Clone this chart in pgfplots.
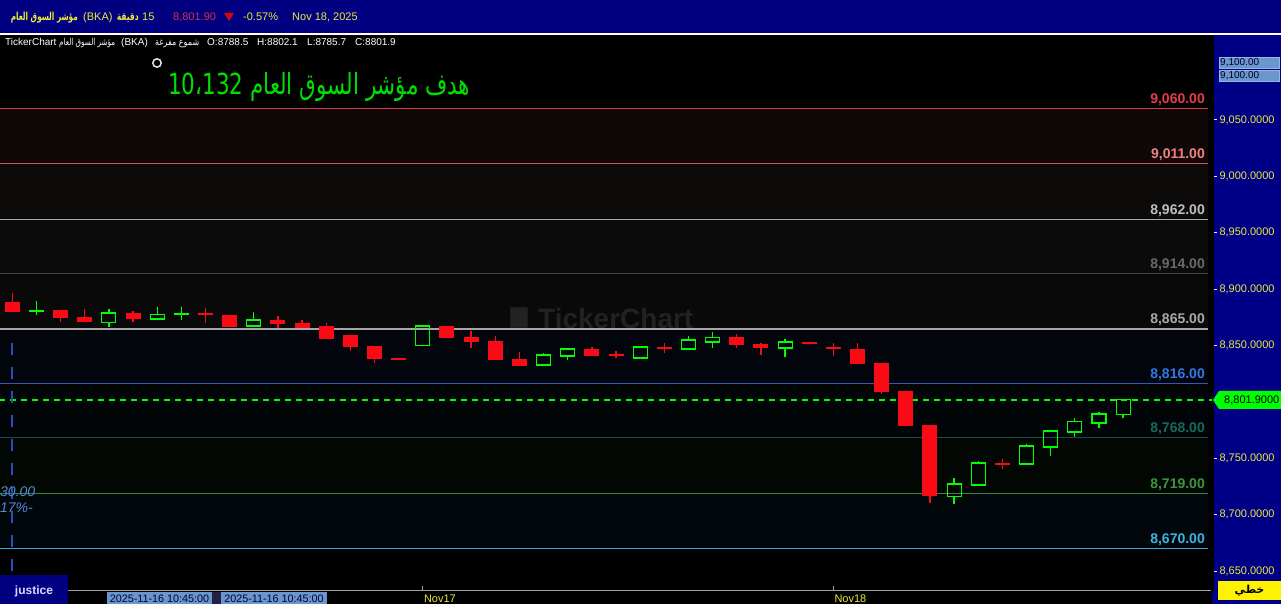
\documentclass[border=0pt]{standalone}
\usepackage{graphicx}
\usepackage{pgfplots}
\pgfplotsset{compat=1.18}
\usepackage{pgfplotstable}
\usepackage{fontspec}
\setmainfont{Liberation Sans}
\newfontfamily\arabicfont[Script=Arabic]{DejaVu Sans}
\TeXXeTstate=1

\definecolor{navyhead}{RGB}{0,0,128}
\definecolor{navypanel}{RGB}{0,0,135}
\definecolor{tyellow}{RGB}{235,235,60}
\definecolor{cred}{RGB}{250,10,20}
\definecolor{cgreen}{RGB}{0,255,0}
\definecolor{pricered}{RGB}{210,50,80}
\definecolor{band1}{RGB}{16,8,8}
\definecolor{band2}{RGB}{13,10,10}
\definecolor{band3}{RGB}{11,11,11}
\definecolor{band4}{RGB}{9,9,9}
\definecolor{band5}{RGB}{3,5,12}
\definecolor{band6}{RGB}{2,5,8}
\definecolor{band7}{RGB}{3,7,4}
\definecolor{band8}{RGB}{1,7,11}
\definecolor{l9060}{RGB}{215,60,70}
\definecolor{l9011}{RGB}{200,90,90}
\definecolor{l8962}{RGB}{170,170,170}
\definecolor{l8914}{RGB}{70,70,70}
\definecolor{l8865}{RGB}{165,165,170}
\definecolor{l8816}{RGB}{50,90,180}
\definecolor{l8768}{RGB}{20,80,75}
\definecolor{l8719}{RGB}{55,135,55}
\definecolor{l8670}{RGB}{45,175,210}
\definecolor{t9060}{RGB}{230,60,75}
\definecolor{t9011}{RGB}{240,130,130}
\definecolor{t8962}{RGB}{190,190,190}
\definecolor{t8914}{RGB}{105,105,105}
\definecolor{t8865}{RGB}{170,170,170}
\definecolor{t8816}{RGB}{50,120,230}
\definecolor{t8768}{RGB}{25,105,90}
\definecolor{t8719}{RGB}{60,150,60}
\definecolor{t8670}{RGB}{60,180,225}
\definecolor{vblue}{RGB}{35,80,190}
\definecolor{itblue}{RGB}{85,135,215}
\definecolor{datebox}{RGB}{105,150,205}
\definecolor{wmark}{RGB}{34,34,34}

% candles: index, open, high, low, close, green(1)/red(0)
\pgfplotstableread{
i o h l c g
1 8888.6 8896.6 8879.7 8879.7 0
2 8880.6 8889.5 8877.1 8880.6 1
3 8881.5 8881.5 8870.8 8874.4 0
4 8875.3 8882.4 8870.8 8870.8 0
5 8870.8 8882.4 8866.4 8878.8 1
6 8878.8 8880.6 8870.8 8873.5 0
7 8873.5 8884.2 8872.6 8877.9 1
8 8877.9 8884.2 8872.6 8877.9 1
9 8877.9 8883.3 8870.0 8877.9 0
10 8877.1 8877.1 8866.4 8866.4 0
11 8867.3 8879.7 8867.3 8872.6 1
12 8872.6 8876.2 8865.5 8869.1 0
13 8870.0 8872.6 8865.5 8865.5 0
14 8867.3 8870.0 8855.8 8855.8 0
15 8859.3 8859.3 8845.1 8848.7 0
16 8849.6 8849.6 8834.5 8838.0 0
17 8838.0 8838.0 8838.0 8838.0 0
18 8850.4 8867.3 8850.4 8867.3 1
19 8867.3 8867.3 8856.6 8856.6 0
20 8857.5 8862.9 8847.8 8853.1 0
21 8854.0 8858.4 8837.1 8837.1 0
22 8838.0 8844.2 8831.8 8831.8 0
23 8832.7 8843.4 8831.8 8841.6 1
24 8840.7 8846.9 8837.1 8846.9 1
25 8846.9 8848.7 8840.7 8840.7 0
26 8841.6 8845.1 8838.9 8841.6 0
27 8838.9 8848.7 8838.9 8848.7 1
28 8847.8 8852.2 8843.4 8847.8 0
29 8846.9 8858.4 8846.9 8854.9 1
30 8853.1 8862.0 8847.8 8857.5 1
31 8857.5 8860.2 8847.8 8850.4 0
32 8851.3 8852.2 8841.6 8847.8 0
33 8847.8 8855.8 8839.8 8853.1 1
34 8852.2 8852.2 8852.2 8852.2 0
35 8847.8 8852.2 8840.7 8847.8 0
36 8846.9 8852.2 8833.6 8833.6 0
37 8834.5 8834.5 8807.0 8808.8 0
38 8809.6 8809.6 8778.6 8778.6 0
39 8779.5 8779.5 8710.3 8716.5 0
40 8716.5 8732.5 8709.4 8727.2 1
41 8726.3 8747.6 8726.3 8745.8 1
42 8744.9 8749.3 8740.5 8744.9 0
43 8744.9 8762.6 8744.9 8760.9 1
44 8760.0 8774.2 8752.0 8774.2 1
45 8773.3 8785.7 8768.9 8783.0 1
46 8781.3 8791.0 8776.8 8789.3 1
47 8788.5 8802.1 8785.7 8801.9 1
}\ohlc

\newcommand{\fs}[1]{\fontsize{#1}{#1}\selectfont}

\begin{document}
\begin{tikzpicture}[x=1pt,y=1pt]
\useasboundingbox (0,0) rectangle (1281,604);
\fill[black] (0,0) rectangle (1281,604);
\fill[navypanel] (1212,0) rectangle (1281,569);
\fill[navyhead] (0,571) rectangle (1281,604);
\fill[white] (0,569) rectangle (1281,571);

\begin{axis}[
  at={(0pt,13pt)}, anchor=south west,
  width=1212pt, height=555pt, scale only axis,
  xmin=0.491, xmax=50.68, ymin=8632.3, ymax=9124.5,
  axis x line*=bottom, axis y line*=right,
  x axis line style={draw=gray!75, line width=1pt},
  y axis line style={draw=black, line width=3pt},
  xtick={18,35}, xticklabels={Nov17,Nov18},
  ytick={8650,8700,8750,8850,8900,8950,9000,9050},
  tick align=outside,
  major tick length=5pt,
  xtick style={draw=gray!75, line width=0.8pt, yshift=5pt},
  ytick style={draw=white!80!gray, line width=1pt},
  yticklabel style={font=\fs{11}, text=tyellow, anchor=west, xshift=-1pt,
    /pgf/number format/.cd, fixed, fixed zerofill, precision=4, 1000 sep={,}, assume math mode=true},
  xticklabel style={font=\fs{11}, text=tyellow, anchor=north west, inner sep=0pt, xshift=1pt, yshift=1pt},
]
% level bands
\addplot[draw=none, fill=band1] coordinates {(0,9060) (50.51,9060) (50.51,9011) (0,9011)};
\addplot[draw=none, fill=band2] coordinates {(0,9011) (50.51,9011) (50.51,8962) (0,8962)};
\addplot[draw=none, fill=band3] coordinates {(0,8962) (50.51,8962) (50.51,8914) (0,8914)};
\addplot[draw=none, fill=band4] coordinates {(0,8914) (50.51,8914) (50.51,8865) (0,8865)};
\addplot[draw=none, fill=band5] coordinates {(0,8865) (50.51,8865) (50.51,8816) (0,8816)};
\addplot[draw=none, fill=band6] coordinates {(0,8816) (50.51,8816) (50.51,8768) (0,8768)};
\addplot[draw=none, fill=band7] coordinates {(0,8768) (50.51,8768) (50.51,8719) (0,8719)};
\addplot[draw=none, fill=band8] coordinates {(0,8719) (50.51,8719) (50.51,8670) (0,8670)};
% watermark
\node[text=wmark, font=\fs{28}\bfseries, anchor=west, inner sep=0pt] at (axis cs:22.77,8874.4) {TickerChart};
\draw[wmark!80!black, fill=wmark, line width=1pt] (axis cs:21.62,8883.3) rectangle (axis cs:22.34,8865.8);
% level lines
\addplot[l9060, line width=1pt] coordinates {(0,9060) (50.51,9060)};
\addplot[l9011, line width=1pt] coordinates {(0,9011) (50.51,9011)};
\addplot[l8962, line width=1pt] coordinates {(0,8962) (50.51,8962)};
\addplot[l8914, line width=1pt] coordinates {(0,8914) (50.51,8914)};
\addplot[l8865, line width=2pt] coordinates {(0,8865) (50.51,8865)};
\addplot[l8816, line width=1pt] coordinates {(0,8816) (50.51,8816)};
\addplot[l8768, line width=1pt] coordinates {(0,8768) (50.51,8768)};
\addplot[l8719, line width=1pt] coordinates {(0,8719) (50.51,8719)};
\addplot[l8670, line width=1pt] coordinates {(0,8670) (50.51,8670)};
% current price
\addplot[cgreen, line width=1.5pt, dash pattern=on 6pt off 5pt] coordinates {(0,8801.9) (51,8801.9)};
% vertical dashed marker
\addplot[vblue, line width=2pt, dash pattern=on 12pt off 12pt] coordinates {(1.008,8852.2) (1.008,8646.5)};
% candles
\pgfplotsforeachungrouped \k in {0,...,46}{%
  \pgfplotstablegetelem{\k}{i}\of\ohlc \let\cX\pgfplotsretval
  \pgfplotstablegetelem{\k}{o}\of\ohlc \let\cO\pgfplotsretval
  \pgfplotstablegetelem{\k}{h}\of\ohlc \let\cH\pgfplotsretval
  \pgfplotstablegetelem{\k}{l}\of\ohlc \let\cL\pgfplotsretval
  \pgfplotstablegetelem{\k}{c}\of\ohlc \let\cC\pgfplotsretval
  \pgfplotstablegetelem{\k}{g}\of\ohlc \let\cG\pgfplotsretval
  \pgfmathsetmacro\cT{max(\cO,\cC)}%
  \pgfmathsetmacro\cB{min(\cO,\cC)}%
  \pgfmathsetmacro\xl{\cX-0.29}%
  \pgfmathsetmacro\xr{\cX+0.29}%
  \pgfmathsetmacro\xL{\cX-0.31}%
  \pgfmathsetmacro\xR{\cX+0.31}%
  \ifnum\cG=1
    \addplot[cgreen, line width=1.3pt] coordinates {(\cX,\cH) (\cX,\cT)};
    \addplot[cgreen, line width=1.3pt] coordinates {(\cX,\cB) (\cX,\cL)};
    \ifdim\cO pt=\cC pt
      \addplot[cgreen, line width=2.2pt] coordinates {(\xL,\cO) (\xR,\cO)};
    \else
      \addplot[cgreen, line width=1.1pt, line join=miter] coordinates {(\xl,\cB) (\xr,\cB) (\xr,\cT) (\xl,\cT)} -- cycle;
    \fi
  \else
    \addplot[cred, line width=1.3pt] coordinates {(\cX,\cH) (\cX,\cT)};
    \addplot[cred, line width=1.3pt] coordinates {(\cX,\cB) (\cX,\cL)};
    \ifdim\cO pt=\cC pt
      \addplot[cred, line width=2.2pt] coordinates {(\xL,\cO) (\xR,\cO)};
    \else
      \addplot[draw=none, fill=cred] coordinates {(\xL,\cB) (\xR,\cB) (\xR,\cT) (\xL,\cT)} -- cycle;
    \fi
  \fi
}
\end{axis}

% level labels
\begin{scope}[font=\fs{14}\bfseries]
\node[anchor=base east, inner sep=0pt, text=t9060] at (1205,500.3) {9,060.00};
\node[anchor=base east, inner sep=0pt, text=t9011] at (1205,445.0) {9,011.00};
\node[anchor=base east, inner sep=0pt, text=t8962] at (1205,389.8) {8,962.00};
\node[anchor=base east, inner sep=0pt, text=t8914] at (1205,335.7) {8,914.00};
\node[anchor=base east, inner sep=0pt, text=t8865] at (1205,280.4) {8,865.00};
\node[anchor=base east, inner sep=0pt, text=t8816] at (1205,225.2) {8,816.00};
\node[anchor=base east, inner sep=0pt, text=t8768] at (1205,171.0) {8,768.00};
\node[anchor=base east, inner sep=0pt, text=t8719] at (1205,115.8) {8,719.00};
\node[anchor=base east, inner sep=0pt, text=t8670] at (1205,60.5) {8,670.00};
\end{scope}

% left labels (partly hidden in the original)
\node[anchor=base west, inner sep=0pt, text=itblue, font=\fs{14}\itshape] at (0,107) {30.00};
\node[anchor=base east, inner sep=0pt, text=itblue, font=\fs{14}\itshape] at (33,91) {17\%-};

% header
\begin{scope}[font=\fs{11}, text=tyellow]
\node[anchor=base east, inner sep=0pt] at (78,583) {\resizebox{67pt}{\height}{\arabicfont\bfseries\beginR مؤشر السوق العام\endR}};
\node[anchor=base west, inner sep=0pt] at (83,583) {(BKA)};
\node[anchor=base east, inner sep=0pt] at (139,583) {\resizebox{22pt}{\height}{\arabicfont\bfseries\beginR دقيقة\endR}};
\node[anchor=base west, inner sep=0pt] at (142,583) {15};
\node[anchor=base west, inner sep=0pt, text=pricered] at (173,583) {8,801.90};
\node[anchor=base west, inner sep=0pt] at (243,583) {-0.57\%};
\node[anchor=base west, inner sep=0pt] at (292,583) {Nov 18, 2025};
\end{scope}
\fill[cred!85!black] (224,591) -- (234,591) -- (229,583) -- cycle;

% info line
\begin{scope}[font=\fs{10}, text=white]
\node[anchor=base west, inner sep=0pt] at (5,558) {TickerChart};
\node[anchor=base west, inner sep=0pt] at (59,558) {\resizebox{56pt}{\height}{\arabicfont\fs{9.5}\beginR مؤشر السوق العام\endR}};
\node[anchor=base west, inner sep=0pt] at (121,558) {(BKA)};
\node[anchor=base west, inner sep=0pt] at (155,558) {\resizebox{44pt}{\height}{\arabicfont\fs{9.5}\beginR شموع مفرغة\endR}};
\node[anchor=base west, inner sep=0pt] at (207,558) {O:8788.5};
\node[anchor=base west, inner sep=0pt] at (257,558) {H:8802.1};
\node[anchor=base west, inner sep=0pt] at (307,558) {L:8785.7};
\node[anchor=base west, inner sep=0pt] at (355,558) {C:8801.9};
\end{scope}

% title
\node[anchor=base west, inner sep=0pt, text=cgreen!88!black] at (168,509)
  {\resizebox{302pt}{\height}{\arabicfont\fs{29}\beginR هدف مؤشر السوق العام \beginL 10،132\endL\endR}};
\draw[white!80!gray, line width=1.5pt] (157,541) circle (4.2);

% right panel items
\foreach \yy in {536,523}{
  \fill[datebox, draw=datebox!70!white] (1219,\yy) rectangle (1279,\yy+11);
  \node[anchor=west, inner sep=0pt, text=black!85!blue, font=\fs{10}] at (1220,\yy+5.5) {9,100.00};
}
\fill[cgreen] (1213,204) -- (1219,213) -- (1281,213) -- (1281,195) -- (1219,195) -- cycle;
\node[anchor=west, inner sep=0pt, font=\fs{11}, text=black] at (1224,204) {8,801.9000};
\fill[yellow] (1218,4) rectangle (1281,23);
\node[font=\fs{11}\bfseries, text=black] at (1249.5,13.5) {\arabicfont\bfseries\beginR خطي\endR};

% bottom
\fill[navyhead] (0,0) rectangle (68,29);
\node[font=\fs{12}\bfseries, text=white!85!blue] at (34,13) {justice};
\fill[white!15!black!85!blue] (212,0) rectangle (221,12);
\fill[datebox] (107,0) rectangle (212,12);
\fill[datebox] (221,0) rectangle (327,12);
\node[font=\fs{10.8}, text=black!80!blue, inner sep=0pt] at (159.5,5.5) {2025-11-16 10:45:00};
\node[font=\fs{10.8}, text=black!80!blue, inner sep=0pt] at (274,5.5) {2025-11-16 10:45:00};
\end{tikzpicture}
\end{document}
